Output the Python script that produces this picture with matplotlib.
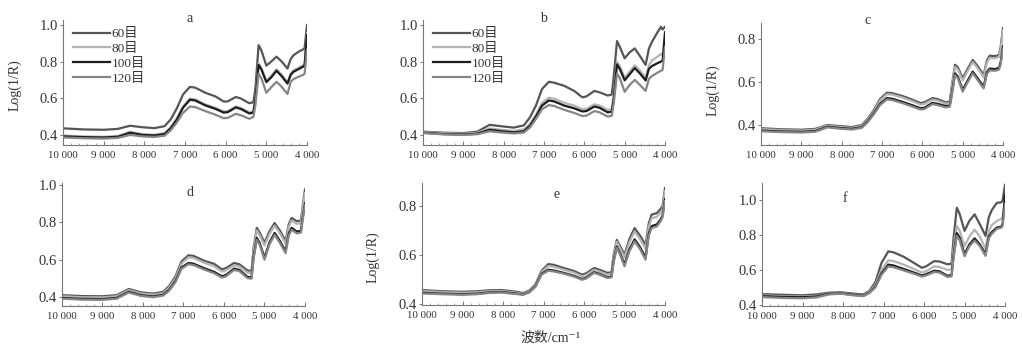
#!/usr/bin/env python3
# NIR spectra of powders at four mesh sizes, six samples (a-f)
import matplotlib
matplotlib.use("Agg")
from matplotlib import pyplot as plt
from matplotlib.ticker import MultipleLocator

plt.rcParams["font.family"] = ["Liberation Serif", "Noto Sans CJK SC", "DejaVu Sans"]

# wavenumber grid, cm-1
wavenumber = [10000, 9500, 9000, 8650, 8350, 8050, 7750, 7500, 7350, 7200, 7050, 6880, 6750, 6500, 6250, 6050,
              5950, 5750, 5620, 5420, 5320, 5270, 5190, 5120, 5000, 4880, 4750, 4620, 4480, 4400, 4330, 4200,
              4100, 4060, 4000]

meshLabels = ["60目", "80目", "100目", "120目"]
panelNames = ["a", "b", "c", "d", "e", "f"]

a60 = [.436, .430, .428, .433, .450, .442, .437, .448, .485, .545, .620, .662, .658, .630, .610, .582, .583, .607, .598, .573, .578, .650, .890, .860, .778, .800, .827, .800, .762, .815, .835, .855, .866, .872, 1.0]
a80 = [.397, .392, .390, .394, .417, .405, .401, .410, .442, .490, .555, .598, .594, .567, .548, .528, .530, .556, .547, .523, .528, .600, .790, .765, .695, .722, .758, .728, .686, .735, .752, .768, .780, .786, .955]
a100 = [.392, .388, .386, .390, .412, .400, .397, .405, .437, .484, .548, .592, .588, .561, .542, .522, .524, .550, .541, .517, .522, .592, .782, .757, .688, .714, .750, .720, .680, .728, .745, .760, .772, .778, .945]
a120 = [.386, .382, .380, .384, .400, .392, .389, .396, .425, .468, .520, .555, .552, .530, .510, .491, .493, .515, .507, .488, .498, .560, .735, .708, .630, .660, .690, .662, .623, .690, .705, .718, .727, .733, .865]

b60 = [.418, .412, .410, .418, .455, .447, .440, .452, .495, .560, .650, .690, .685, .668, .640, .605, .610, .640, .632, .615, .620, .720, .912, .880, .818, .850, .872, .830, .782, .870, .905, .955, .990, .975, .990]
b80 = [.415, .409, .406, .412, .435, .428, .422, .430, .460, .510, .575, .603, .598, .575, .560, .540, .542, .567, .560, .537, .540, .620, .800, .775, .712, .745, .780, .752, .712, .780, .805, .825, .842, .835, .870]
b100 = [.412, .405, .402, .407, .428, .420, .414, .420, .450, .500, .560, .588, .583, .560, .545, .528, .530, .555, .548, .523, .527, .600, .785, .760, .698, .730, .765, .735, .697, .760, .775, .790, .800, .805, .960]
b120 = [.410, .403, .400, .404, .420, .413, .408, .413, .440, .487, .540, .563, .558, .537, .520, .503, .505, .530, .523, .500, .505, .575, .735, .710, .635, .672, .700, .672, .640, .705, .720, .738, .750, .755, .880]

c60 = [.385, .380, .378, .382, .400, .395, .390, .400, .430, .470, .520, .550, .548, .535, .518, .502, .505, .525, .520, .505, .508, .580, .680, .668, .617, .660, .702, .672, .632, .700, .722, .720, .725, .760, .850]
c80 = [.381, .376, .374, .378, .397, .391, .386, .396, .425, .464, .513, .543, .541, .528, .511, .495, .498, .518, .513, .499, .502, .572, .670, .658, .607, .650, .692, .662, .622, .690, .712, .710, .716, .750, .838]
c100 = [.374, .370, .368, .372, .392, .386, .382, .390, .418, .455, .498, .525, .522, .508, .492, .478, .480, .503, .498, .488, .490, .545, .640, .625, .563, .605, .648, .615, .578, .645, .662, .660, .665, .690, .765]
c120 = [.371, .367, .365, .369, .389, .383, .379, .387, .414, .450, .492, .519, .516, .502, .486, .472, .474, .497, .492, .482, .484, .538, .632, .617, .555, .597, .640, .607, .570, .637, .654, .652, .657, .682, .755]

d60 = [.410, .405, .404, .410, .443, .425, .418, .428, .460, .510, .590, .623, .620, .595, .578, .548, .555, .582, .575, .542, .540, .660, .770, .745, .690, .750, .796, .755, .700, .790, .823, .805, .810, .880, .975]
d80 = [.404, .399, .398, .404, .437, .419, .412, .421, .452, .500, .578, .612, .609, .584, .566, .536, .543, .570, .563, .530, .528, .645, .756, .731, .676, .736, .782, .741, .686, .776, .809, .791, .796, .866, .955]
d100 = [.395, .390, .389, .395, .428, .410, .403, .412, .440, .485, .558, .582, .578, .555, .535, .511, .518, .552, .545, .508, .505, .615, .716, .690, .610, .690, .743, .700, .645, .740, .770, .750, .755, .820, .900]
d120 = [.391, .386, .385, .391, .424, .406, .399, .408, .435, .479, .551, .575, .571, .548, .528, .504, .511, .545, .538, .501, .498, .606, .706, .680, .600, .680, .733, .690, .635, .730, .760, .740, .745, .810, .890]

e60 = [.457, .452, .450, .452, .456, .457, .452, .445, .455, .480, .535, .563, .560, .547, .535, .520, .525, .547, .540, .527, .530, .600, .662, .640, .601, .665, .710, .680, .642, .730, .765, .771, .790, .800, .873]
e80 = [.453, .448, .446, .448, .452, .453, .448, .442, .452, .477, .530, .555, .552, .540, .528, .513, .518, .540, .533, .520, .523, .592, .654, .631, .590, .652, .696, .666, .627, .715, .750, .756, .775, .787, .860]
e100 = [.446, .442, .440, .442, .447, .449, .444, .439, .449, .472, .523, .540, .537, .527, .515, .502, .507, .530, .523, .509, .512, .575, .634, .611, .562, .623, .664, .633, .590, .688, .718, .725, .747, .762, .828]
e120 = [.443, .440, .438, .440, .445, .447, .442, .438, .448, .470, .520, .536, .533, .524, .512, .499, .504, .527, .520, .506, .509, .570, .629, .605, .554, .615, .656, .625, .581, .680, .710, .717, .740, .755, .820]

f60 = [.462, .458, .455, .460, .470, .472, .465, .460, .480, .530, .640, .706, .700, .675, .640, .612, .620, .650, .648, .632, .635, .780, .955, .920, .823, .880, .917, .860, .794, .900, .940, .983, .985, .995, 1.085]
f80 = [.455, .450, .448, .452, .465, .468, .460, .455, .475, .515, .600, .655, .650, .630, .605, .585, .592, .620, .617, .600, .603, .720, .850, .825, .735, .790, .830, .790, .720, .820, .855, .880, .890, .900, .980]
f100 = [.450, .446, .444, .448, .463, .466, .458, .452, .470, .505, .580, .630, .625, .605, .585, .568, .575, .595, .592, .566, .570, .680, .810, .785, .690, .745, .780, .745, .690, .790, .815, .842, .845, .860, 1.03]
f120 = [.445, .440, .438, .443, .460, .464, .455, .450, .468, .500, .572, .620, .615, .597, .578, .562, .568, .588, .585, .560, .563, .670, .795, .770, .678, .735, .768, .735, .680, .780, .805, .835, .840, .850, .975]

spectra = {
    "a": [a60, a80, a100, a120],
    "b": [b60, b80, b100, b120],
    "c": [c60, c80, c100, c120],
    "d": [d60, d80, d100, d120],
    "e": [e60, e80, e100, e120],
    "f": [f60, f80, f100, f120],
}

lineColors = ["#555555", "#b4b4b4", "#1c1c1c", "#858585"]
xTicks = [10000, 9000, 8000, 7000, 6000, 5000, 4000]
xTickLabels = ["10 000", "9 000", "8 000", "7 000", "6 000", "5 000", "4 000"]

# axes boxes in pixels: left, right, top, bottom ; y limits ; y ticks
W, H = 1022, 348
boxes = {
    "a": (63, 307, 20, 145, (0.345, 1.027), [0.4, 0.6, 0.8, 1.0]),
    "b": (423, 665, 20, 145, (0.345, 1.027), [0.4, 0.6, 0.8, 1.0]),
    "c": (761, 1003, 23, 145, (0.307, 0.874), [0.4, 0.6, 0.8]),
    "d": (62, 305, 183, 306, (0.352, 1.01), [0.4, 0.6, 0.8, 1.0]),
    "e": (422, 665, 183, 305, (0.396, 0.894), [0.4, 0.6, 0.8]),
    "f": (762, 1005, 183, 306, (0.394, 1.096), [0.4, 0.6, 0.8, 1.0]),
}
titlePos = {"a": (190, 18), "b": (543, 18), "c": (868, 20), "d": (190, 193), "e": (557, 195), "f": (845, 198)}
textColor = "#333333"

fig = plt.figure(figsize=(W / 100, H / 100), dpi=100)
for name in panelNames:
    left, right, top, bottom, ylim, yticks = boxes[name]
    ax = fig.add_axes([left / W, 1 - bottom / H, (right - left) / W, (bottom - top) / H])
    for series, color, label in zip(spectra[name], lineColors, meshLabels):
        ax.plot(wavenumber, series, color=color, linewidth=1.6, label=label, solid_joinstyle="round")
    ax.set_xlim(10000, 4000)
    ax.set_ylim(*ylim)
    ax.set_yticks(yticks)
    ax.set_yticklabels([f"{v:.1f}" for v in yticks])
    ax.set_xticks(xTicks)
    ax.set_xticklabels(xTickLabels)
    ax.xaxis.set_minor_locator(MultipleLocator(200))
    ax.spines["top"].set_visible(False)
    ax.spines["right"].set_visible(False)
    for s in ("left", "bottom"):
        ax.spines[s].set_color("#777777")
        ax.spines[s].set_linewidth(0.8)
    ax.tick_params(axis="y", direction="out", length=2.5, width=0.7, colors="#777777", labelcolor=textColor, labelsize=10.5, pad=1)
    ax.tick_params(axis="x", which="major", direction="in", length=3, width=0.7, colors="#777777", labelcolor=textColor, labelsize=7.8, pad=4)
    ax.tick_params(axis="x", which="minor", direction="in", length=1.5, width=0.6, colors="#999999")
    ax.patch.set_alpha(0)
    tx, ty = titlePos[name]
    fig.text(tx / W, 1 - ty / H, name, ha="center", va="center", fontsize=10, color=textColor)
    if name in ("a", "b"):
        ax.legend(loc="upper left", bbox_to_anchor=(0.01, 1.0), frameon=False, fontsize=9.5,
                  handlelength=2.8, handletextpad=0.1, labelspacing=0.2, borderpad=0.1, labelcolor=textColor)

fig.text(15 / W, 1 - 85 / H, "Log(1/R)", rotation=90, ha="center", va="center", fontsize=10, color=textColor)
fig.text(713 / W, 1 - 90 / H, "Log(1/R)", rotation=90, ha="center", va="center", fontsize=10, color=textColor)
fig.text(373 / W, 1 - 257 / H, "Log(1/R)", rotation=90, ha="center", va="center", fontsize=10, color=textColor)
fig.text(550 / W, 1 - 338 / H, "波数/cm⁻¹", ha="center", va="center", fontsize=10, color=textColor)

fig.savefig("out.png", dpi=100)
